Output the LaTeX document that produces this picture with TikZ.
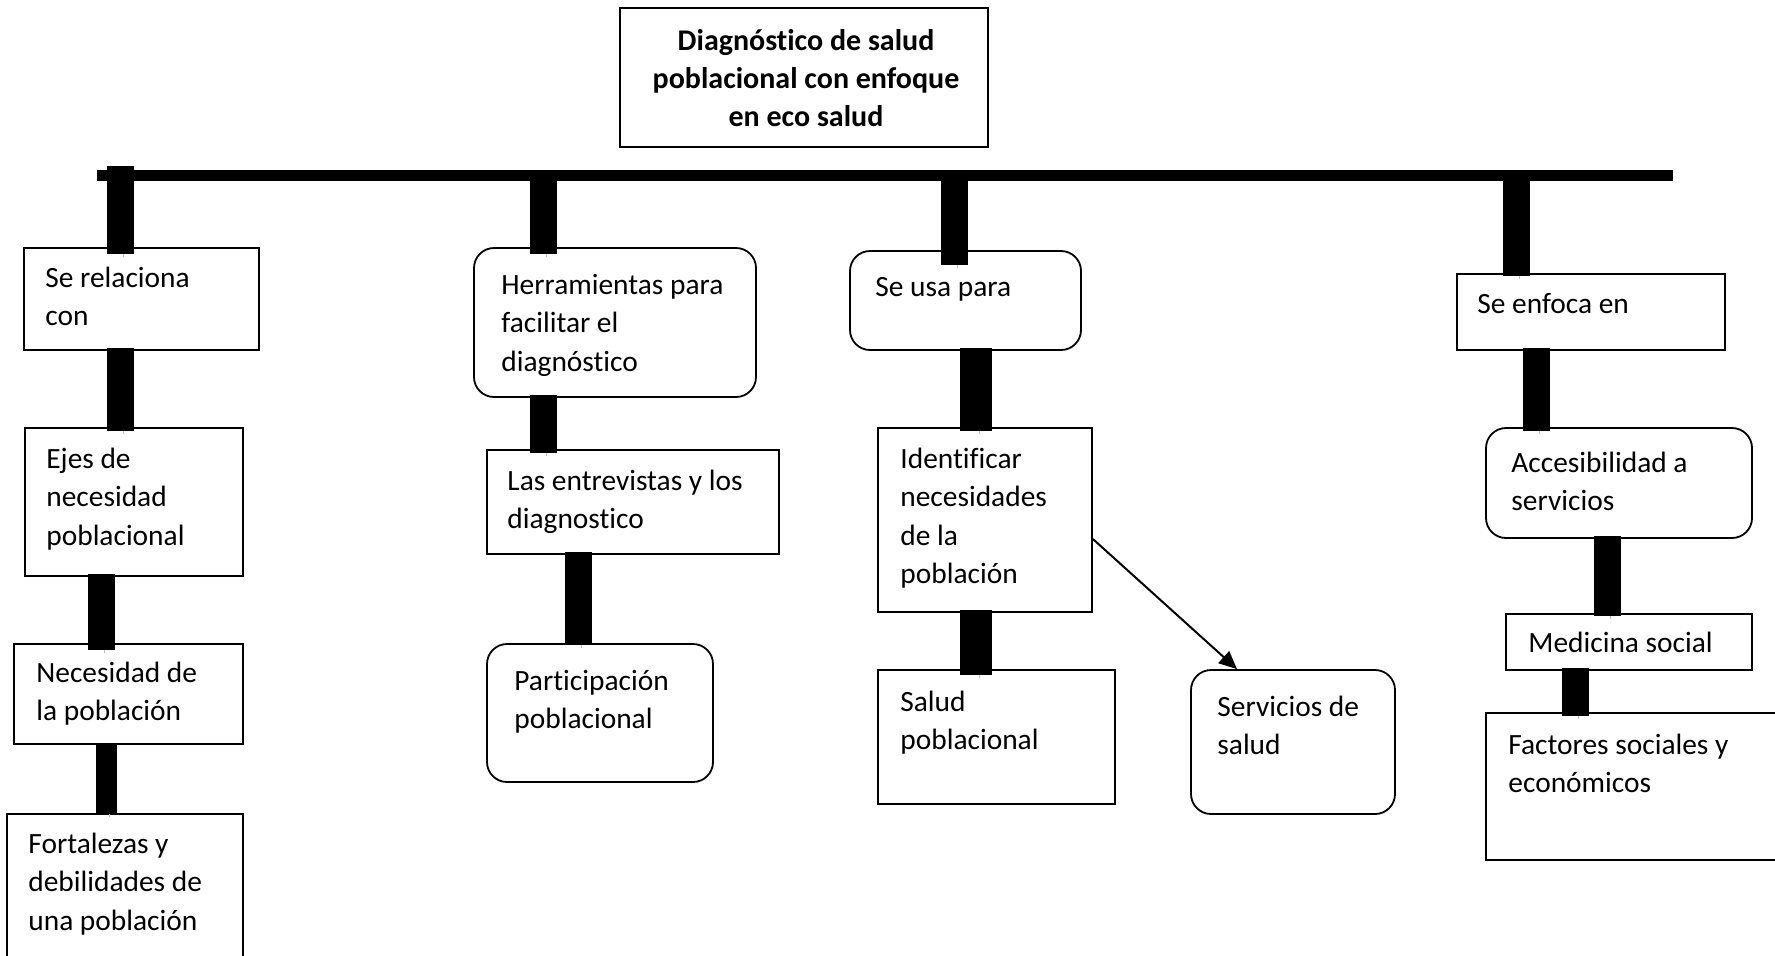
\documentclass[tikz,border=0pt]{standalone}
\usepackage{fontspec}
\setmainfont{Carlito}[Ligatures=NoCommon]
\usetikzlibrary{fit,arrows.meta}
\definecolor{shadowgray}{RGB}{190,190,190}
\begin{document}
\begin{tikzpicture}[x=0.5pt,y=-0.5pt,
  box/.style={draw, line width=0.9pt, inner sep=0pt},
  rbox/.style={box, rounded corners=10pt},
  txt/.style={inner sep=0pt, align=left, anchor=base west, yshift=-1.2pt, font=\fontsize{14.7}{19.25}\selectfont},
  conn/.style={line width=13.5pt, shorten <=-1.5pt, shorten >=-2pt,
    preaction={draw=shadowgray, transform canvas={xshift=1.5pt,yshift=-1.5pt}}},
  barline/.style={line width=5.5pt},
  arr/.style={line width=1pt, -{Triangle[length=9pt,width=8pt]}}
]
\path[use as bounding box, clip] (0,0) rectangle (1775,955);

% title
\node[box, fit={(620,8) (988,147)}] (title) {};
\node[txt, align=center, anchor=base, font=\bfseries\fontsize{15}{19}\selectfont] (titletext) at (806,124)
  {Diagnóstico de salud\\poblacional con enfoque\\en eco salud};

% main bar
\coordinate (bar) at (97,175);
\coordinate (barR) at (1673,175);
\draw[barline] (bar) -- (barR);

% column 1
\node[box, fit={(24,248) (259,350)}] (b1) {};
\node[box, fit={(25,428) (243,576)}] (b2) {};
\node[box, fit={(14,644) (243,744)}] (b3) {};
\node[box, fit={(7,814) (243,1000)}] (b4) {};
\node[txt] (tb1) at (45,323.5) {Se relaciona\\con};
\node[txt] (tb2) at (46,543) {Ejes de\\necesidad\\poblacional};
\node[txt] (tb3) at (36,718.5) {Necesidad de\\la población};
\node[txt] (tb4) at (28,928) {Fortalezas y\\debilidades de\\una población};

% column 2
\node[rbox, fit={(474,248) (756,397)}] (c1) {};
\node[box, fit={(487,450) (779,554)}] (c2) {};
\node[rbox, fit={(487,644) (713,782)}] (c3) {};
\node[txt] (tc1) at (501,369) {Herramientas para\\facilitar el\\diagnóstico};
\node[txt] (tc2) at (507,526.5) {Las entrevistas y los\\diagnostico};
\node[txt] (tc3) at (514,726.5) {Participación\\poblacional};

% column 3
\node[rbox, fit={(850,251) (1081,350)}] (d1) {};
\node[box, fit={(878,428) (1092,612)}] (d2) {};
\node[box, fit={(878,670) (1115,804)}] (d3) {};
\node[rbox, fit={(1191,670) (1395,814)}] (d4) {};
\node[txt] (td1) at (875,294) {Se usa para};
\node[txt] (td2) at (900,581.5) {Identificar\\necesidades\\de la\\población};
\node[txt] (td3) at (900,747.5) {Salud\\poblacional};
\node[txt] (td4) at (1217,752.5) {Servicios de\\salud};

% column 4
\node[box, fit={(1457,274) (1725,350)}] (e1) {};
\node[rbox, fit={(1486,428) (1752,538)}] (e2) {};
\node[box, fit={(1506,614) (1752,670)}] (e3) {};
\node[box, fit={(1486,713) (1800,860)}] (e4) {};
\node[txt] (te1) at (1477,311) {Se enfoca en};
\node[txt] (te2) at (1511,508.5) {Accesibilidad a\\servicios};
\node[txt] (te3) at (1528,650) {Medicina social};
\node[txt] (te4) at (1508,790.5) {Factores sociales y\\económicos};

% connector x positions
\coordinate (xk1) at (120,0);
\coordinate (xk3) at (101,0);
\coordinate (xk4) at (106.5,0);
\coordinate (xm1) at (543.5,0);
\coordinate (xm3) at (578.5,0);
\coordinate (xn1) at (954.5,0);
\coordinate (xn2) at (976,0);
\coordinate (xp1) at (1516.5,0);
\coordinate (xp2) at (1536.5,0);
\coordinate (xp3) at (1607,0);
\coordinate (xp4) at (1575,0);

% connectors
\draw[conn, shorten <=-4.5pt, shorten >=-3.5pt] (xk1 |- bar) -- (xk1 |- b1.north);
\draw[conn] (xk1 |- b1.south) -- (xk1 |- b2.north);
\draw[conn, shorten >=-3.5pt] (xk3 |- b2.south) -- (xk3 |- b3.north);
\draw[conn, line width=10.5pt, shorten <=0pt, shorten >=-0.5pt] (xk4 |- b3.south) -- (xk4 |- b4.north);

\draw[conn, shorten <=2pt, shorten >=-3.5pt] (xm1 |- bar) -- (xm1 |- c1.north);
\draw[conn] (xm1 |- c1.south) -- (xm1 |- c2.north);
\draw[conn, shorten >=-1pt] (xm3 |- c2.south) -- (xm3 |- c3.north);

\draw[conn, shorten <=2pt, shorten >=-7.5pt] (xn1 |- bar) -- (xn1 |- d1.north);
\draw[conn, line width=16pt] (xn2 |- d1.south) -- (xn2 |- d2.north);
\draw[conn, line width=16pt, shorten >=-3pt] (xn2 |- d2.south) -- (xn2 |- d3.north);

\draw[conn, shorten <=2pt, shorten >=-1.5pt] (xp1 |- bar) -- (xp1 |- e1.north);
\draw[conn] (xp2 |- e1.south) -- (xp2 |- e2.north);
\draw[conn, shorten >=-1.5pt] (xp3 |- e2.south) -- (xp3 |- e3.north);
\draw[conn] (xp4 |- e3.south) -- (xp4 |- e4.north);

% arrow
\draw[arr] ([yshift=-9.5pt]d2.east) -- ([xshift=-28pt]d4.north);
\end{tikzpicture}
\end{document}
